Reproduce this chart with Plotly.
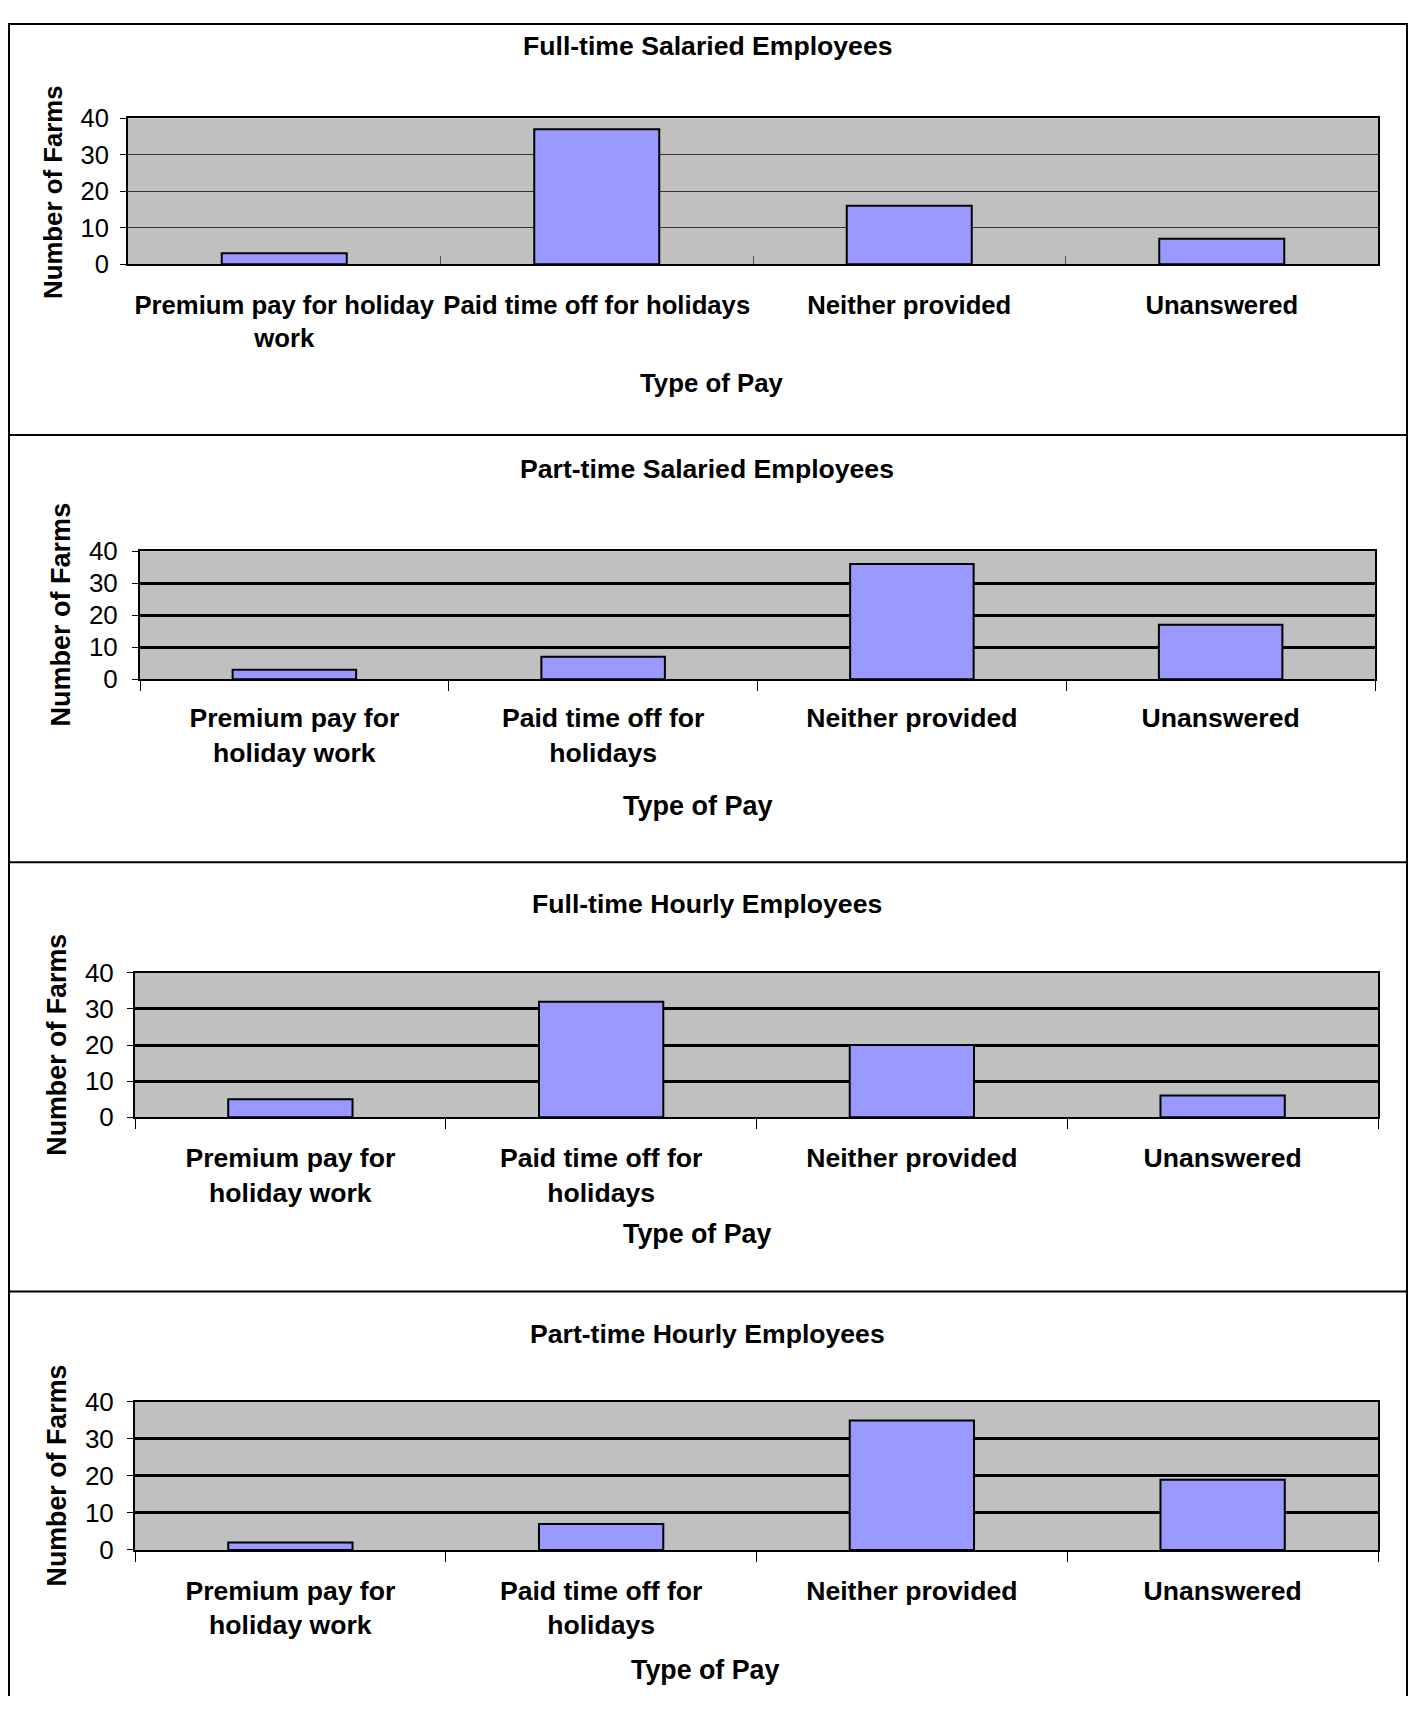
import plotly.graph_objects as go

# ---- data ----
categories = ["Premium pay for holiday work", "Paid time off for holidays", "Neither provided", "Unanswered"]
labels_p1 = ["Premium pay for holiday<br>work", "Paid time off for holidays", "Neither provided", "Unanswered"]
labels_wrapped = ["Premium pay for<br>holiday work", "Paid time off for<br>holidays", "Neither provided", "Unanswered"]

panel_titles = ["Full-time Salaried Employees", "Part-time Salaried Employees",
                "Full-time Hourly Employees", "Part-time Hourly Employees"]
full_time_salaried = [3, 37, 16, 7]
part_time_salaried = [3, 7, 36, 17]
full_time_hourly = [5, 32, 20, 6]
part_time_hourly = [2, 7, 35, 19]
y_ticks = [0, 10, 20, 30, 40]
x_title = "Type of Pay"
y_title = "Number of Farms"

series = [full_time_salaried, part_time_salaried, full_time_hourly, part_time_hourly]
tick_text = [labels_p1, labels_wrapped, labels_wrapped, labels_wrapped]

# ---- layout geometry (figure pixels) ----
W, H = 1400, 1703
def px(x): return x / W
def py(y): return 1 - y / H

plot_boxes = [  # x0, x1, ytop, ybottom
    (120, 1370, 97, 245.5),
    (132, 1367, 537.6, 668),
    (127, 1370, 966.8, 1113.9),
    (127, 1370, 1403.7, 1554.3),
]
title_pos = [(699, 23), (699, 454), (699, 896.5), (699, 1334.6)]
xtitle_pos = [(704, 366), (690, 797), (689, 1233), (697, 1677)]
ytitle_pos = [(45, 172), (53, 602), (49, 1040), (49, 1478.5)]
dividers = [419.4, 854.2, 1291.2]

# font sizes per panel
title_size = [26.6, 26.6, 26.6, 26.6]
tick_size = [25.7, 26.6, 26.6, 26.6]
axis_title_size = [25.8, 27, 26.8, 26.8]
ytick_size = [25.5, 26, 26, 26]
ytick_standoff = [6, 9, 8, 8]
xtick_standoff = [17, 14, 16, 16]

FONT = "Arial, 'Liberation Sans', sans-serif"
fig = go.Figure()
annotations = []
for i, (vals, box) in enumerate(zip(series, plot_boxes)):
    n = "" if i == 0 else str(i + 1)
    fig.add_trace(go.Bar(
        x=categories, y=vals, width=0.4,
        marker=dict(color="#9999FF", line=dict(color="black", width=2)),
        xaxis="x" + n, yaxis="y" + n, showlegend=False, hoverinfo="x+y",
    ))
    x0, x1, yt, yb = box
    first = i == 0
    fig.update_layout(**{
        "xaxis" + n: dict(
            domain=[px(x0), px(x1)], anchor="y" + n,
            type="category", categoryorder="array", categoryarray=categories,
            tickmode="array", tickvals=categories, ticktext=tick_text[i],
            tickson="boundaries", tickangle=0,
            ticks="inside" if first else "outside",
            ticklen=8 if first else 10, tickwidth=1,
            tickcolor="#555555" if first else "black",
            showline=True, linecolor="black", linewidth=2, mirror=True,
            showgrid=False, zeroline=False,
            tickfont=dict(family=FONT, size=tick_size[i], color="black", weight="bold"),
            ticklabelstandoff=xtick_standoff[i],
            fixedrange=True,
        ),
        "yaxis" + n: dict(
            domain=[py(yb), py(yt)], anchor="x" + n,
            range=[0, 40], tickmode="array", tickvals=y_ticks,
            ticks="outside", ticklen=6, tickwidth=1, tickcolor="black",
            showline=True, linecolor="black", linewidth=2, mirror=True,
            showgrid=True,
            gridcolor="#333333" if first else "black",
            gridwidth=1 if first else 3,
            zeroline=False,
            tickfont=dict(family=FONT, size=ytick_size[i], color="black"),
            ticklabelstandoff=ytick_standoff[i],
            fixedrange=True,
        ),
    })
    tx, ty = title_pos[i]
    annotations.append(dict(text="<b>" + panel_titles[i] + "</b>", x=px(tx), y=py(ty),
                            xref="paper", yref="paper", showarrow=False,
                            xanchor="center", yanchor="middle",
                            font=dict(family=FONT, size=title_size[i], color="black")))
    ax, ay = xtitle_pos[i]
    annotations.append(dict(text="<b>" + x_title + "</b>", x=px(ax), y=py(ay),
                            xref="paper", yref="paper", showarrow=False,
                            xanchor="center", yanchor="middle",
                            font=dict(family=FONT, size=axis_title_size[i], color="black")))
    yx, yy = ytitle_pos[i]
    annotations.append(dict(text="<b>" + y_title + "</b>", x=px(yx), y=py(yy),
                            xref="paper", yref="paper", showarrow=False,
                            textangle=-90, xanchor="center", yanchor="middle",
                            font=dict(family=FONT, size=axis_title_size[i], color="black")))

shapes = []
line_style = dict(color="black", width=2)
# outer frame
shapes.append(dict(type="line", xref="paper", yref="paper", x0=px(1), x1=px(1), y0=0, y1=1, line=line_style))
shapes.append(dict(type="line", xref="paper", yref="paper", x0=px(1399), x1=px(1399), y0=0, y1=1, line=line_style))
shapes.append(dict(type="line", xref="paper", yref="paper", x0=0, x1=1, y0=py(1), y1=py(1), line=line_style))
for yd in dividers:
    shapes.append(dict(type="line", xref="paper", yref="paper", x0=0, x1=1, y0=py(yd), y1=py(yd), line=line_style))

fig.update_layout(
    width=W, height=H,
    margin=dict(l=0, r=0, t=0, b=0),
    paper_bgcolor="white", plot_bgcolor="#C0C0C0",
    annotations=annotations, shapes=shapes,
    bargap=0.6, showlegend=False,
    font=dict(family=FONT, color="black"),
)

fig.write_html("out.html")
